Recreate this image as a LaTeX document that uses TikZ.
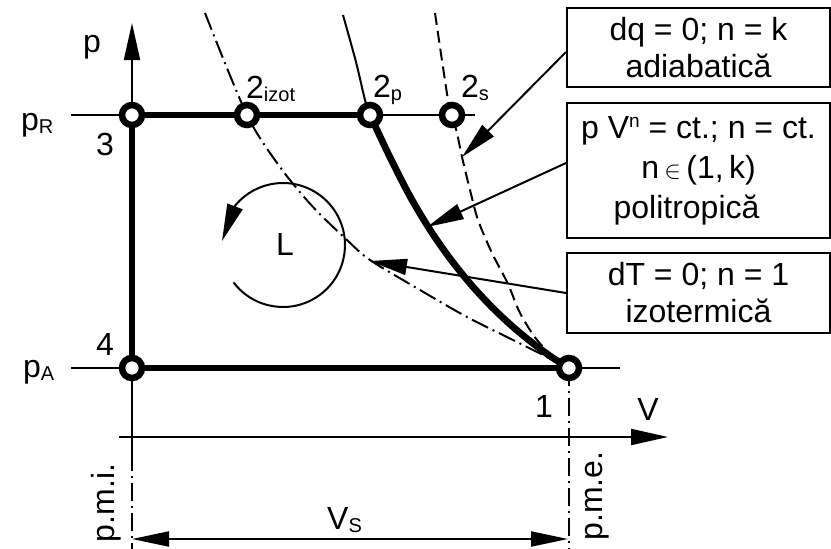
\documentclass[tikz,border=0pt]{standalone}
\usepackage{fontspec}
\setmainfont{Liberation Sans}
\usetikzlibrary{arrows.meta}
\newcommand{\sbs}[1]{\raisebox{-3pt}{\fontsize{20}{20}\selectfont #1}}
\newcommand{\sps}[1]{\raisebox{11pt}{\fontsize{19}{19}\selectfont #1}}
\begin{document}
\begin{tikzpicture}[x=1pt,y=-1pt,
  ln/.style={line width=2pt},
  thk/.style={line width=6.8pt},
  ring/.style={circle, draw, line width=6.5pt, fill=white, inner sep=0pt, minimum size=20pt},
  arr/.style={ln, -{Triangle[length=37pt,width=16pt]}},
  darr/.style={ln, {Triangle[length=37pt,width=15pt]}-{Triangle[length=37pt,width=15pt]}},
  dsh/.style={ln, dash pattern=on 12pt off 6pt},
  dshdot/.style={ln, dash pattern=on 18pt off 5pt on 2pt off 5pt},
  box/.style={draw, ln, minimum width=263pt, inner sep=0pt, align=center, font=\fontsize{32}{37}\selectfont},
  lbl/.style={inner sep=0pt, font=\fontsize{32}{37}\selectfont}]
\useasboundingbox (0,0) rectangle (831,549);
% key points
\coordinate (P3) at (132,115);
\coordinate (P2i) at (247,115);
\coordinate (P2p) at (370,115);
\coordinate (P2s) at (452,115);
\coordinate (P4) at (132,368);
\coordinate (P1) at (569,368);
% auxiliary coordinates
\coordinate (pRa) at (71,115);
\coordinate (pRb) at (475,115);
\coordinate (pAa) at (71,368);
\coordinate (pAb) at (620,368);
\coordinate (ax0) at (132,437);
\coordinate (ptip) at (132,23);
\coordinate (vst) at (119,437);
\coordinate (vtip) at (668,437);
\coordinate (pmiA) at (132,453);
\coordinate (pmiB) at (132,549);
\coordinate (pmeB) at (569,549);
\coordinate (dl) at (132,539);
\coordinate (dr) at (568,539);
\coordinate (tA) at (462,157);
\coordinate (tP) at (427,227);
\coordinate (tI) at (370,261);
\coordinate (cL) at (283,245);
\coordinate (Ltip) at (222,241);
% thin lines and axes
\draw[ln] (pRa) -- (pRb);
\draw[ln] (pAa) -- (pAb);
\draw[arr] (ax0) -- (ptip);
\draw[arr] (vst) -- (vtip);
\draw[ln] (P4) -- (pmiA);
\draw[dshdot] (pmiA) -- (pmiB);
\draw[dshdot] (P1) -- (pmeB);
\draw[darr] (dl) -- (dr);
% isotherm
\draw[dshdot] plot[smooth] coordinates {(205,13) (247,115) (280,167) (313,207) (347,240) (370,260) (420,290) (467,317) (513,340) (569,368)};
% adiabat
\draw[dsh] plot[smooth] coordinates {(435,13) (448,100) (452,115) (457,133) (462,157) (470,190) (478,220) (492,253) (508,284) (520,313) (537,340) (557,360) (569,368)};
% polytrope
\draw[ln] plot[smooth] coordinates {(343,15) (356,62) (365,100) (370,115)};
\draw[thk] plot[smooth] coordinates {(370,115) (390.6,158.5) (410.6,197.4) (430.6,230.7) (450.6,259.3) (470.6,284.1) (490.6,305.8) (510.6,324.8) (530.6,341.5) (550.6,356.4) (569,368)};
% cycle
\draw[thk] (P2p) -- (P3) -- (P4) -- (P1);
% work arrow
\draw[ln, -{Triangle[length=37pt,width=16pt]}] (cL) ++(143:62) arc[start angle=143, end angle=-140, radius=62] -- (Ltip);
% state points
\node[ring] (n3) at (P3) {};
\node[ring] (n2i) at (P2i) {};
\node[ring] (n2p) at (P2p) {};
\node[ring] (n2s) at (P2s) {};
\node[ring] (n4) at (P4) {};
\node[ring] (n1) at (P1) {};
% labels
\node[lbl, anchor=base] (lp) at (92,52) {p};
\node[lbl, anchor=base west] (lpR) at (21,130) {p\sbs{R}};
\node[lbl, anchor=base west] (lpA) at (23,377) {p\sbs{A}};
\node[lbl, anchor=base] (l3) at (105,155) {3};
\node[lbl, anchor=base] (l4) at (105,355) {4};
\node[lbl, anchor=base] (l1) at (544,417) {1};
\node[lbl, anchor=base] (lV) at (648,420) {V};
\node[lbl, anchor=base west] (l2i) at (246,98) {2\sbs{izot}};
\node[lbl, anchor=base west] (l2p) at (373,97) {2\sbs{p}};
\node[lbl, anchor=base west] (l2s) at (461,97) {2\sbs{s}};
\node[lbl, anchor=base] (lL) at (285,255) {L};
\node[lbl, anchor=base west] (lVS) at (327,529) {V\sbs{S}};
\node[lbl, rotate=90, anchor=base] (lpmi) at (114,503) {p.m.i.};
\node[lbl, rotate=90, anchor=base] (lpme) at (602,496) {p.m.e.};
% boxes
\node[box, minimum height=79pt] (b1) at (698.5,47.5) {dq = 0; n = k\\adiabatică};
\node[box, minimum height=135pt] (b2) at (698.5,170.5) {p V\sps{n} = ct.; n = ct.\\[3pt]n\,$\in$\,(1,\,k)\hspace*{26pt}\\[3pt]politropică\hspace*{24pt}};
\node[box, minimum height=80pt] (b3) at (698.5,293) {dT = 0; n = 1\\izotermică};
% connectors
\draw[arr] ([yshift=-4.5pt]b1.west) -- (tA);
\draw[arr] ([yshift=7.5pt]b2.west) -- (tP);
\draw[arr] (b3.west) -- (tI);
\end{tikzpicture}
\end{document}
